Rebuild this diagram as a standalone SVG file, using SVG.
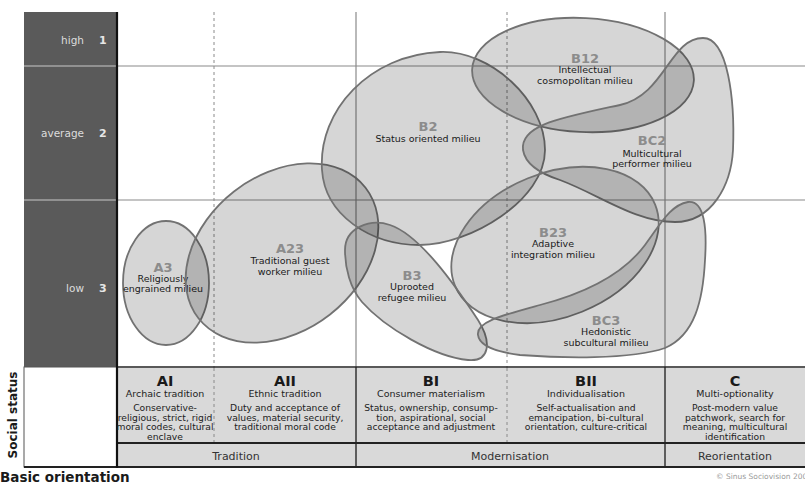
<svg xmlns="http://www.w3.org/2000/svg" width="805" height="486" viewBox="0 0 805 486">
<style>
.blob{fill:#000;fill-opacity:0.16;stroke:#727272;stroke-width:1.8}
.code{font-family:"DejaVu Sans",sans-serif;font-weight:bold;font-size:13px;fill:#8c8c8c;text-anchor:middle}
.nm{font-family:"DejaVu Sans",sans-serif;font-size:9.5px;fill:#1a1a1a;text-anchor:middle}
.grid{stroke:#8a8a8a;stroke-width:1.2;fill:none}
.dash{stroke:#8a8a8a;stroke-width:1;stroke-dasharray:3 3;fill:none}
.dark{stroke:#222;stroke-width:2;fill:none}
.ax{font-family:"DejaVu Sans",sans-serif;font-size:10.5px;fill:#dcdcdc;text-anchor:end}
.axn{font-family:"DejaVu Sans",sans-serif;font-size:11px;font-weight:bold;fill:#e6e6e6}
.th{font-family:"DejaVu Sans",sans-serif;font-weight:bold;font-size:14.5px;fill:#1a1a1a;text-anchor:middle}
.ts{font-family:"DejaVu Sans",sans-serif;font-size:9.5px;fill:#222;text-anchor:middle}
.td{font-family:"DejaVu Sans",sans-serif;font-size:9.2px;fill:#222;text-anchor:middle}
.tr{font-family:"DejaVu Sans",sans-serif;font-size:11px;fill:#333;text-anchor:middle}
.bt{font-family:"DejaVu Sans",sans-serif;font-weight:bold;fill:#1a1a1a}
</style>
<rect width="805" height="486" fill="#fff"/>
<g id="axis">
<rect x="24" y="12" width="93" height="355" fill="#5a5a5a"/>
<rect x="24" y="367" width="93" height="100" fill="#fff" stroke="#555" stroke-width="1"/>
<line x1="24" y1="66" x2="117" y2="66" stroke="#c8c8c8" stroke-width="1.2"/>
<line x1="24" y1="200" x2="117" y2="200" stroke="#c8c8c8" stroke-width="1.2"/>
<text class="ax" x="84" y="44">high</text><text class="axn" x="99" y="44">1</text>
<text class="ax" x="84" y="137">average</text><text class="axn" x="99" y="137">2</text>
<text class="ax" x="84" y="292">low</text><text class="axn" x="99" y="292">3</text>
<text class="bt" font-size="12" transform="translate(17,415) rotate(-90)" text-anchor="middle">Social status</text>
<text class="bt" font-size="13.5" x="0" y="482">Basic orientation</text>
</g>
<g id="grid">
<line class="grid" x1="117" y1="66" x2="805" y2="66"/>
<line class="grid" x1="117" y1="200" x2="805" y2="200"/>
<line class="dash" x1="214" y1="12" x2="214" y2="443"/>
<line class="dash" x1="507" y1="12" x2="507" y2="443"/>
<line class="grid" x1="356" y1="12" x2="356" y2="367"/>
<line class="grid" x1="665" y1="12" x2="665" y2="367"/>
</g>
<g id="table">
<rect x="118" y="368" width="687" height="74" fill="#d9d9d9"/>
<rect x="118" y="444" width="687" height="22" fill="#d9d9d9"/>
<line class="dash" x1="214" y1="368" x2="214" y2="442"/>
<line class="dash" x1="507" y1="368" x2="507" y2="442"/>
<line stroke="#333" stroke-width="1.5" x1="356" y1="367" x2="356" y2="467"/>
<line stroke="#333" stroke-width="1.5" x1="665" y1="367" x2="665" y2="467"/>
<line stroke="#222" stroke-width="1.5" x1="117" y1="367" x2="805" y2="367"/>
<line class="dark" x1="117" y1="443" x2="805" y2="443"/>
<line class="dark" x1="24" y1="467" x2="805" y2="467"/>
<line stroke="#111" stroke-width="2.2" x1="117" y1="12" x2="117" y2="468"/>
<g id="AI">
<text class="th" x="165" y="385.5">AI</text>
<text class="ts" x="165" y="397">Archaic tradition</text>
<text class="td" x="165" y="411">Conservative-</text>
<text class="td" x="165" y="420.5">religious, strict, rigid</text>
<text class="td" x="165" y="430">moral codes, cultural</text>
<text class="td" x="165" y="439.5">enclave</text>
</g>
<g id="AII">
<text class="th" x="285" y="385.5">AII</text>
<text class="ts" x="285" y="397">Ethnic tradition</text>
<text class="td" x="285" y="411">Duty and acceptance of</text>
<text class="td" x="285" y="420.5">values, material security,</text>
<text class="td" x="285" y="430">traditional moral code</text>
</g>
<g id="BI">
<text class="th" x="431" y="385.5">BI</text>
<text class="ts" x="431" y="397">Consumer materialism</text>
<text class="td" x="431" y="411">Status, ownership, consump-</text>
<text class="td" x="431" y="420.5">tion, aspirational, social</text>
<text class="td" x="431" y="430">acceptance and adjustment</text>
</g>
<g id="BII">
<text class="th" x="586" y="385.5">BII</text>
<text class="ts" x="586" y="397">Individualisation</text>
<text class="td" x="586" y="411">Self-actualisation and</text>
<text class="td" x="586" y="420.5">emancipation, bi-cultural</text>
<text class="td" x="586" y="430">orientation, culture-critical</text>
</g>
<g id="C">
<text class="th" x="735" y="385.5">C</text>
<text class="ts" x="735" y="397">Multi-optionality</text>
<text class="td" x="735" y="411">Post-modern value</text>
<text class="td" x="735" y="420.5">patchwork, search for</text>
<text class="td" x="735" y="430">meaning, multicultural</text>
<text class="td" x="735" y="439.5">identification</text>
</g>
<text class="tr" x="236" y="460">Tradition</text>
<text class="tr" x="510" y="460">Modernisation</text>
<text class="tr" x="735" y="460">Reorientation</text>
<text x="716" y="479" font-family="DejaVu Sans, sans-serif" font-size="7.5" fill="#9a9a9a">© Sinus Sociovision 200</text>
</g>
<g id="A3">
<ellipse class="blob" cx="166" cy="283" rx="43" ry="62"/>
<text class="code" x="163" y="272">A3</text>
<text class="nm" x="163" y="282">Religiously</text>
<text class="nm" x="163" y="292">engrained milieu</text>
</g>
<g id="A23">
<ellipse class="blob" cx="282" cy="253" rx="106" ry="78" transform="rotate(-38 282 253)"/>
<text class="code" x="290" y="253">A23</text>
<text class="nm" x="290" y="264">Traditional guest</text>
<text class="nm" x="290" y="275">worker milieu</text>
</g>
<g id="B2">
<path class="blob" d="M322,170 C318,110 370,55 440,52 C490,50 545,100 545,150 C545,200 470,245 420,245 C370,245 325,215 322,170 Z"/>
<text class="code" x="428" y="131">B2</text>
<text class="nm" x="428" y="142">Status oriented milieu</text>
</g>
<g id="B12">
<ellipse class="blob" cx="583" cy="75" rx="111" ry="57" transform="rotate(3 583 75)"/>
<text class="code" x="585" y="63">B12</text>
<text class="nm" x="585" y="73">Intellectual</text>
<text class="nm" x="585" y="84">cosmopolitan milieu</text>
</g>
<g id="BC2">
<path class="blob" d="M523,150 C520,125 560,118 620,105 C665,95 670,38 703,38 C728,38 735,100 733,150 C731,185 712,222 675,222 C635,222 600,195 560,180 C535,172 525,162 523,150 Z"/>
<text class="code" x="652" y="145">BC2</text>
<text class="nm" x="652" y="157">Multicultural</text>
<text class="nm" x="652" y="167">performer milieu</text>
</g>
<g id="B23">
<ellipse class="blob" cx="555" cy="245" rx="108" ry="72" transform="rotate(-22 555 245)"/>
<text class="code" x="553" y="237">B23</text>
<text class="nm" x="553" y="247">Adaptive</text>
<text class="nm" x="553" y="258">integration milieu</text>
</g>
<g id="B3">
<path class="blob" d="M345,250 C345,228 370,218 390,225 C420,235 455,285 478,320 C492,342 490,362 468,360 C435,357 385,328 362,302 C350,288 345,268 345,250 Z"/>
<text class="code" x="412" y="280">B3</text>
<text class="nm" x="412" y="290">Uprooted</text>
<text class="nm" x="412" y="301">refugee milieu</text>
</g>
<g id="BC3">
<path class="blob" d="M478,335 C476,322 500,316 540,305 C590,292 625,272 645,245 C660,225 670,205 688,202 C705,200 707,230 705,260 C703,300 695,335 665,348 C630,360 560,358 520,355 C495,352 479,345 478,335 Z"/>
<text class="code" x="606" y="325">BC3</text>
<text class="nm" x="606" y="335">Hedonistic</text>
<text class="nm" x="606" y="346">subcultural milieu</text>
</g>
</svg>
